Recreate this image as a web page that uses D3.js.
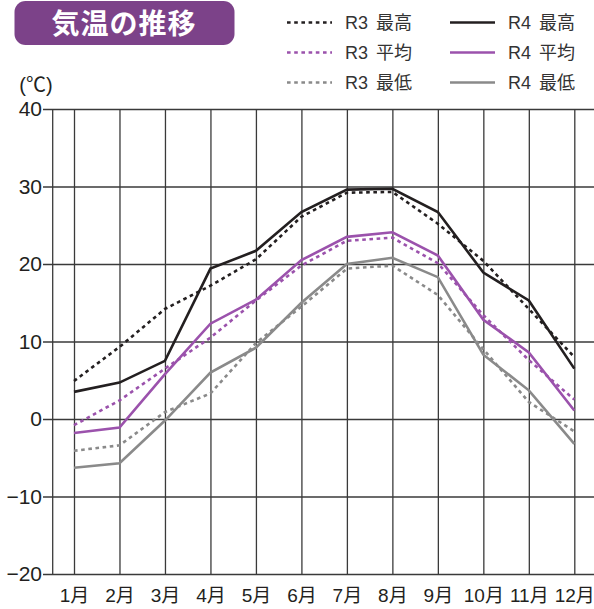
<!DOCTYPE html>
<html>
<head>
<meta charset="utf-8">
<script src="https://cdn.jsdelivr.net/npm/d3@7"></script>
<style>
  body { margin: 0; background: #fff; }
  svg { display: block; }
  .axis-label { font-family: 'Liberation Sans Narrow', 'Liberation Sans', 'Noto Sans CJK JP', sans-serif; fill: #231f20; }
  .legend-label { font-family: 'Liberation Sans', 'Noto Sans CJK JP', sans-serif; fill: #333; }
</style>
</head>
<body>
<div id="chart"></div>
<script>
var months = ['1月', '2月', '3月', '4月', '5月', '6月', '7月', '8月', '9月', '10月', '11月', '12月'];
var yTicks = [-20, -10, 0, 10, 20, 30, 40];

var r3Max = [4.9, 9.3, 14.2, 17.2, 20.6, 26.1, 29.2, 29.3, 25.2, 20.4, 14.2, 8.0];
var r3Avg = [-0.8, 2.4, 6.5, 10.5, 15.3, 19.8, 23.0, 23.4, 20.1, 13.4, 7.6, 2.5];
var r3Min = [-4.1, -3.4, 0.9, 3.3, 9.8, 14.5, 19.4, 19.8, 16.0, 9.0, 2.2, -1.6];
var r4Max = [3.5, 4.7, 7.5, 19.4, 21.7, 26.7, 29.6, 29.7, 26.7, 18.9, 15.3, 6.5];
var r4Avg = [-1.8, -1.1, 5.8, 12.3, 15.4, 20.5, 23.5, 24.1, 21.1, 12.8, 8.6, 1.1];
var r4Min = [-6.3, -5.7, -0.2, 6.0, 9.2, 15.0, 20.0, 20.8, 18.3, 8.3, 3.7, -3.2];

var seriesNames = ['R3 最高', 'R3 平均', 'R3 最低', 'R4 最高', 'R4 平均', 'R4 最低'];

var width = 594;
var height = 609;

var black = '#231f20';
var purple = '#9b52ac';
var gray = '#8a8a8a';

var series = [
  { name: seriesNames[0], values: r3Max, color: black, dashed: true },
  { name: seriesNames[1], values: r3Avg, color: purple, dashed: true },
  { name: seriesNames[2], values: r3Min, color: gray, dashed: true },
  { name: seriesNames[3], values: r4Max, color: black, dashed: false },
  { name: seriesNames[4], values: r4Avg, color: purple, dashed: false },
  { name: seriesNames[5], values: r4Min, color: gray, dashed: false }
];

var x = d3.scalePoint().domain(months).range([74, 574.3]);
var y = d3.scaleLinear().domain([-20, 40]).range([574, 109]);

var svg = d3.select('#chart')
  .append('svg')
  .attr('width', width)
  .attr('height', height);

// Title badge.
svg.append('rect')
  .attr('x', 14.5)
  .attr('y', 1)
  .attr('width', 220)
  .attr('height', 44)
  .attr('rx', 11)
  .attr('fill', '#7c4289');

svg.append('text')
  .attr('x', 124)
  .attr('y', 34)
  .attr('text-anchor', 'middle')
  .style('font-family', "'Noto Sans CJK JP', sans-serif")
  .style('font-weight', 'bold')
  .style('font-size', '28px')
  .style('letter-spacing', '1px')
  .attr('fill', '#fff')
  .text('気温の推移');

// Horizontal grid lines.
var yGrid = d3.axisLeft(y)
  .tickValues(yTicks)
  .tickSize(-(width - 43))
  .tickFormat('');

svg.append('g')
  .attr('transform', 'translate(43,0)')
  .call(yGrid)
  .call(function(g) { g.select('.domain').remove(); })
  .call(function(g) {
    g.selectAll('.tick line').attr('stroke', '#3a3a3a').attr('stroke-width', 1.3);
  });

// Vertical grid lines + month labels.
var xAxis = d3.axisBottom(x)
  .tickSize(-(574 - 109))
  .tickPadding(15);

svg.append('g')
  .attr('transform', 'translate(0,574)')
  .call(xAxis)
  .call(function(g) { g.select('.domain').remove(); })
  .call(function(g) {
    g.selectAll('.tick line').attr('stroke', '#3a3a3a').attr('stroke-width', 1.3);
    g.selectAll('.tick text')
      .attr('class', 'axis-label')
      .style('font-size', '19px')
      .attr('fill', black);
  });

// Left axis line.
svg.append('line')
  .attr('x1', 52.7)
  .attr('x2', 52.7)
  .attr('y1', y(40))
  .attr('y2', y(-20))
  .attr('stroke', '#3a3a3a')
  .attr('stroke-width', 1.3);

// Y tick labels.
var yAxis = d3.axisLeft(y)
  .tickValues(yTicks)
  .tickSize(0)
  .tickPadding(1)
  .tickFormat(function(d) { return d < 0 ? '\u2212' + Math.abs(d) : d; });

svg.append('g')
  .attr('transform', 'translate(43,0)')
  .call(yAxis)
  .call(function(g) { g.select('.domain').remove(); })
  .call(function(g) {
    g.selectAll('.tick text')
      .attr('class', 'axis-label')
      .style('font-size', '21px')
      .attr('fill', black);
  });

// Unit label.
svg.append('text')
  .attr('class', 'axis-label')
  .attr('x', 36)
  .attr('y', 92)
  .attr('text-anchor', 'middle')
  .style('font-size', '20px')
  .text('(℃)');

// Lines.
var line = d3.line()
  .x(function(d, i) { return x(months[i]); })
  .y(function(d) { return y(d); });

var drawOrder = [2, 5, 1, 4, 0, 3];
drawOrder.forEach(function(i) {
  var s = series[i];
  svg.append('path')
    .datum(s.values)
    .attr('fill', 'none')
    .attr('stroke', s.color)
    .attr('stroke-width', 2.6)
    .attr('stroke-dasharray', s.dashed ? '3.6 3.6' : null)
    .attr('stroke-linejoin', 'miter')
    .attr('d', line);
});

// Legend.
var legend = svg.append('g');
series.forEach(function(s, i) {
  var col = i < 3 ? 0 : 1;
  var row = i % 3;
  var lx = col === 0 ? 287 : 450;
  var ly = 22.5 + row * 30;
  legend.append('line')
    .attr('x1', lx)
    .attr('x2', lx + 45)
    .attr('y1', ly)
    .attr('y2', ly)
    .attr('stroke', s.color)
    .attr('stroke-width', 2.6)
    .attr('stroke-dasharray', s.dashed ? '3.6 3.6' : null);
  legend.append('text')
    .attr('class', 'legend-label')
    .attr('x', lx + 58)
    .attr('y', ly + 6.5)
    .style('font-size', '18px')
    .style('word-spacing', '3px')
    .text(s.name);
});
</script>
</body>
</html>
